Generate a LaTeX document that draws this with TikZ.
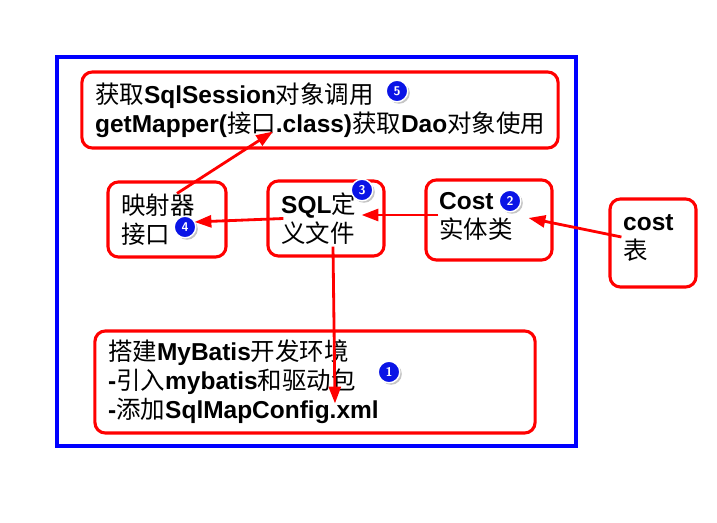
\documentclass[tikz,border=0pt]{standalone}
\usepackage{fontspec}
\setmainfont{Liberation Sans}
\newfontfamily\cjk{Noto Sans CJK SC}
\usepackage{tikz}
\usetikzlibrary{arrows.meta,shadows}
\definecolor{boxred}{HTML}{FF0000}
\definecolor{framblue}{HTML}{0000FF}
\definecolor{numblue}{HTML}{0A14E6}
\newcommand{\zh}[1]{{\cjk\mdseries #1}}
\tikzset{
  stage/.style={draw=boxred,line width=2.2pt,rounded corners=2.6mm,align=left,
                inner xsep=3.3mm,inner ysep=0pt,font=\fontsize{17.4}{20.5}\selectfont\bfseries},
  num/.style={circle,fill=numblue,draw=white,line width=1pt,text=white,inner sep=0pt,
              minimum size=5.4mm,font=\sffamily\bfseries\small,
              drop shadow={shadow xshift=0.5mm,shadow yshift=-0.5mm,fill=black!45}},
  arr/.style={-{Triangle[length=4.2mm,width=3mm]},boxred,line width=2pt},
}
\begin{document}
\begin{tikzpicture}[x=0.025cm,y=-0.025cm]
  \useasboundingbox (0,0) rectangle (717,523);
  \draw[framblue,line width=2.2pt] (57,57) rectangle (576,446);
  \node[stage,text width=112.4mm,minimum height=19mm] (top) at (320,110)
    {\zh{获取}SqlSession\zh{对象调用}\\getMapper(\zh{接口}.class)\zh{获取}Dao\zh{对象使用}};
  \node[stage,text width=22.9mm,minimum height=18.75mm] (mapper) at (167,219.5)
    {\zh{映射器}\\\zh{接口}};
  \node[stage,text width=22.4mm,minimum height=18.75mm] (sql) at (326,218.5)
    {SQL\zh{定}\\\zh{义文件}};
  \node[stage,text width=24.9mm,minimum height=20mm,text height=4mm,text depth=9mm] (ent) at (489,220)
    {Cost\\\zh{实体类}};
  \node[stage,text width=14.9mm,minimum height=22mm,text height=4mm,text depth=10mm] (costt) at (653,243)
    {cost\\\zh{表}};
  \node[stage,text width=103.4mm,minimum height=25.5mm] (env) at (315,382)
    {\zh{搭建}MyBatis\zh{开发环境}\\-\zh{引入}mybatis\zh{和驱动包}\\-\zh{添加}SqlMapConfig.xml};
  \node[num] (n5) at (397,91) {5};
  \node[num] (n3) at (362,190) {3};
  \node[num] (n2) at (510,201) {2};
  \node[num] (n4) at (185,227) {4};
  \node[num] (n1) at (389,372) {1};
  \draw[arr] ([shift={(13,-6)}]costt.west) -- ([shift={(-25,-2)}]ent.east);
  \draw[arr] ([shift={(14,-5)}]ent.west) -- ([shift={(-24,-3.5)}]sql.east);
  \draw[arr] ([shift={(17,0)}]sql.west) -- ([shift={(-33,2.5)}]mapper.east);
  \draw[arr] ([shift={(10,13)}]mapper.north) -- ([shift={(-47,-18)}]top.south);
  \draw[arr] ([shift={(7,-11)}]sql.south) -- ([shift={(20,74)}]env.north);
\end{tikzpicture}
\end{document}
